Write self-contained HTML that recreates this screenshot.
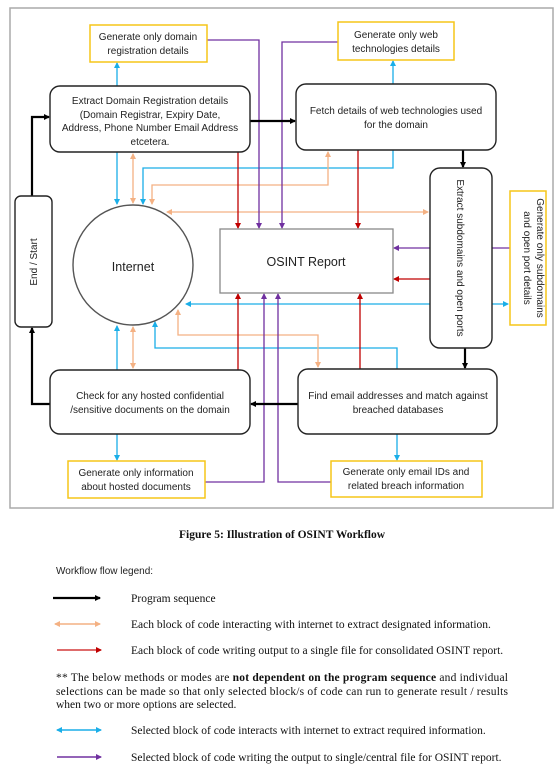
<!DOCTYPE html>
<html><head><meta charset="utf-8"><style>
body{margin:0;width:560px;height:764px;background:#fff;overflow:hidden}
svg{display:block}
.s{font-family:"Liberation Sans",sans-serif;font-size:10px;fill:#222}
.t{font-family:"Liberation Serif",serif;font-size:11.5px;fill:#111}
</style></head><body>
<svg width="560" height="764" viewBox="0 0 560 764">
<defs>
<marker id="k" markerWidth="6" markerHeight="6" refX="5" refY="3" orient="auto" markerUnits="userSpaceOnUse"><path d="M0,0L6,3L0,6z" fill="#000"/></marker>
<marker id="b" markerWidth="6" markerHeight="6" refX="5" refY="3" orient="auto-start-reverse" markerUnits="userSpaceOnUse"><path d="M0,0L6,3L0,6z" fill="#1aaee8"/></marker>
<marker id="o" markerWidth="6" markerHeight="6" refX="5" refY="3" orient="auto-start-reverse" markerUnits="userSpaceOnUse"><path d="M0,0L6,3L0,6z" fill="#f4b183"/></marker>
<marker id="r" markerWidth="6" markerHeight="6" refX="5" refY="3" orient="auto" markerUnits="userSpaceOnUse"><path d="M0,0L6,3L0,6z" fill="#c00000"/></marker>
<marker id="p" markerWidth="6" markerHeight="6" refX="5" refY="3" orient="auto" markerUnits="userSpaceOnUse"><path d="M0,0L6,3L0,6z" fill="#7030a0"/></marker>
</defs>
<rect x="10" y="8" width="543" height="500" fill="none" stroke="#aaa" stroke-width="1.5"/>

<g fill="none" stroke-width="1.3">
<g stroke="#1aaee8">
<path d="M117,86V63" marker-end="url(#b)"/>
<path d="M393,84V61" marker-end="url(#b)"/>
<path d="M117,152V204" marker-end="url(#b)"/>
<path d="M393,150V168H143V204" marker-end="url(#b)"/>
<path d="M186,304H508" marker-start="url(#b)" marker-end="url(#b)"/>
<path d="M117,370V326" marker-end="url(#b)"/>
<path d="M397,369V348H155V322" marker-end="url(#b)"/>
<path d="M117,434V460" marker-end="url(#b)"/>
<path d="M397,434V460" marker-end="url(#b)"/>
</g>
<g stroke="#f4b183">
<path d="M133,154V203" marker-start="url(#o)" marker-end="url(#o)"/>
<path d="M328,152V185H152V204" marker-start="url(#o)" marker-end="url(#o)"/>
<path d="M167,212H428" marker-start="url(#o)" marker-end="url(#o)"/>
<path d="M133,327V368" marker-start="url(#o)" marker-end="url(#o)"/>
<path d="M178,310V335H318V367" marker-start="url(#o)" marker-end="url(#o)"/>
</g>
<g stroke="#c00000">
<path d="M238,152V228" marker-end="url(#r)"/>
<path d="M358,150V228" marker-end="url(#r)"/>
<path d="M430,279H394" marker-end="url(#r)"/>
<path d="M238,370V294" marker-end="url(#r)"/>
<path d="M360,369V294" marker-end="url(#r)"/>
</g>
<g stroke="#7030a0">
<path d="M207,40H259V228" marker-end="url(#p)"/>
<path d="M338,42H282V228" marker-end="url(#p)"/>
<path d="M510,248H394" marker-end="url(#p)"/>
<path d="M205,482H264V294" marker-end="url(#p)"/>
<path d="M331,482H278V294" marker-end="url(#p)"/>
</g>
<g stroke="#000" stroke-width="2.2">
<path d="M250,121H295" marker-end="url(#k)"/>
<path d="M463,150V167" marker-end="url(#k)"/>
<path d="M465,348V368" marker-end="url(#k)"/>
<path d="M298,404H251" marker-end="url(#k)"/>
<path d="M50,404H32V328" marker-end="url(#k)"/>
<path d="M32,196V117H49" marker-end="url(#k)"/>
</g>
</g>

<g stroke="#222" stroke-width="1.4" fill="#fff">
<rect x="50" y="86" width="200" height="66" rx="10"/>
<rect x="296" y="84" width="200" height="66" rx="10"/>
<rect x="430" y="168" width="62" height="180" rx="10"/>
<rect x="15" y="196" width="37" height="131" rx="6"/>
<rect x="50" y="370" width="200" height="64" rx="10"/>
<rect x="298" y="369" width="199" height="65" rx="10"/>
<circle cx="133" cy="265" r="60" stroke="#555"/>
</g>
<rect x="220" y="229" width="173" height="64" fill="#fff" stroke="#888" stroke-width="1.3"/>
<g fill="#fff" stroke="#f5c518" stroke-width="1.5">
<rect x="90" y="25" width="117" height="37"/>
<rect x="338" y="22" width="116" height="38"/>
<rect x="510" y="191" width="36" height="134"/>
<rect x="68" y="461" width="137" height="37"/>
<rect x="331" y="461" width="151" height="36"/>
</g>

<g class="s" text-anchor="middle">
<text x="148" y="40">Generate only domain</text><text x="148" y="54">registration details</text>
<text x="396" y="38">Generate only web</text><text x="396" y="52">technologies details</text>
<text x="150" y="104">Extract Domain Registration details</text>
<text x="150" y="118">(Domain Registrar, Expiry Date,</text>
<text x="150" y="131">Address, Phone Number Email Address</text>
<text x="150" y="145">etcetera.</text>
<text x="396" y="114">Fetch details of web technologies used</text>
<text x="396" y="128">for the domain</text>
<text x="150" y="399">Check for any hosted confidential</text>
<text x="150" y="413">/sensitive documents on the domain</text>
<text x="398" y="399">Find email addresses and match against</text>
<text x="398" y="413">breached databases</text>
<text x="136" y="476">Generate only information</text><text x="136" y="490">about hosted documents</text>
<text x="406" y="475">Generate only email IDs and</text><text x="406" y="489">related breach information</text>
<text x="133" y="271" font-size="12.5">Internet</text>
<text x="306" y="266" font-size="12.5">OSINT Report</text>
<text transform="translate(457,258) rotate(90)">Extract subdomains  and open ports</text>
<text transform="translate(537,258) rotate(90)">Generate only subdomains</text>
<text transform="translate(524,258) rotate(90)">and open port details</text>
<text transform="translate(37,262) rotate(-90)">End / Start</text>
</g>

<text class="t" x="282" y="538" text-anchor="middle" font-weight="bold" font-size="12">Figure 5: Illustration of OSINT Workflow</text>
<text class="s" x="56" y="574" font-size="12">Workflow flow legend:</text>
<g fill="none" stroke-width="1.6">
<path d="M53,598H100" stroke="#000" stroke-width="2.2" marker-end="url(#k)"/>
<path d="M55,624H100" stroke="#f4b183" marker-start="url(#o)" marker-end="url(#o)"/>
<path d="M57,650H101" stroke="#d43a3a" marker-end="url(#r)"/>
<path d="M57,730H101" stroke="#1aaee8" marker-start="url(#b)" marker-end="url(#b)"/>
<path d="M57,757H101" stroke="#7030a0" marker-end="url(#p)"/>
</g>
<g class="t">
<text x="131" y="602">Program sequence</text>
<text x="131" y="628">Each block of code interacting with internet to extract designated information.</text>
<text x="131" y="654">Each block of code writing output to a single file for consolidated OSINT report.</text>
<text x="56" y="681" textLength="452" lengthAdjust="spacing">** The below methods or modes are <tspan font-weight="bold">not dependent on the program sequence</tspan> and individual</text>
<text x="56" y="695" textLength="452" lengthAdjust="spacing">selections can be made so that only selected block/s of code can run to generate result / results</text>
<text x="56" y="708">when two or more options are selected.</text>
<text x="131" y="734">Selected block of code interacts with internet to extract required information.</text>
<text x="131" y="761">Selected block of code writing the output to single/central file for OSINT report.</text>
</g>
</svg>
</body></html>
